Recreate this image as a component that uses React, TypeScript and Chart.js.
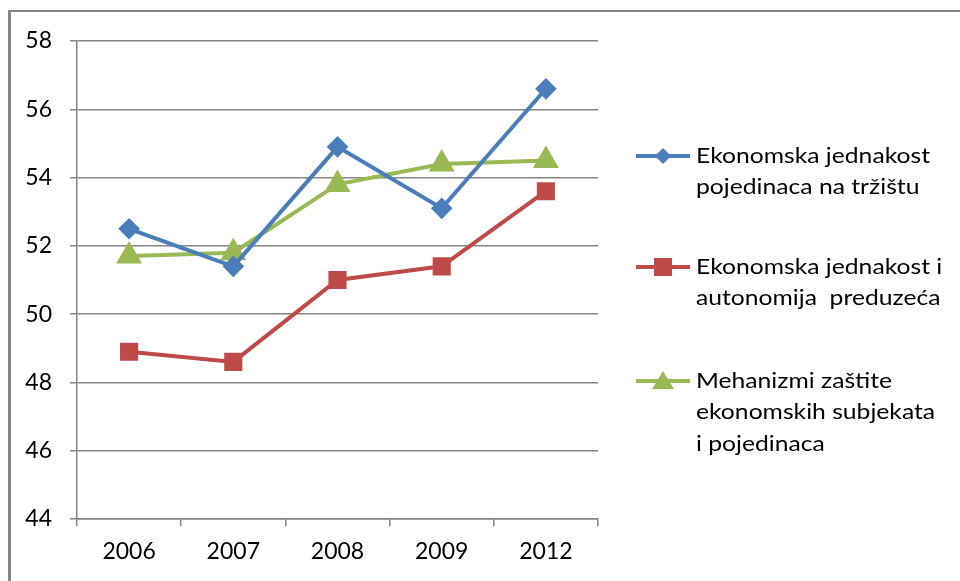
import React, { useEffect, useRef } from "react";
import { Chart, registerables } from "chart.js";

Chart.register(...registerables);

const categories = ["2006", "2007", "2008", "2009", "2012"];
const seriesNames = [
  ["Ekonomska jednakost", "pojedinaca na tržištu"],
  ["Ekonomska jednakost i", "autonomija  preduzeća"],
  ["Mehanizmi zaštite", "ekonomskih subjekata", "i pojedinaca"],
];
const blueValues = [52.5, 51.4, 54.9, 53.1, 56.6];
const redValues = [48.9, 48.6, 51.0, 51.4, 53.6];
const greenValues = [51.7, 51.8, 53.8, 54.4, 54.5];
const yMin = 44;
const yMax = 58;
const yStep = 2;

const FONT = "Lato, 'Liberation Sans', sans-serif";
const GRID = "#868686";

const legendPlugin = {
  id: "customLegend",
  afterDraw(chart: any) {
    const ctx = chart.ctx;
    const rows = [156, 267, 381];
    const lineH = 31.5;
    ctx.save();
    ctx.font = `21px ${FONT}`;
    const sx = 234 / ctx.measureText(seriesNames[0][0]).width;
    ctx.restore();
    chart.data.datasets.forEach((ds: any, i: number) => {
      const y = rows[i];
      ctx.save();
      ctx.strokeStyle = ds.borderColor;
      ctx.lineWidth = 4;
      ctx.beginPath();
      ctx.moveTo(636, y);
      ctx.lineTo(690, y);
      ctx.stroke();
      ctx.fillStyle = ds.backgroundColor;
      ctx.beginPath();
      const cx = 663;
      if (ds.pointStyle === "rectRot") {
        const r = 8;
        ctx.moveTo(cx, y - r);
        ctx.lineTo(cx + r, y);
        ctx.lineTo(cx, y + r);
        ctx.lineTo(cx - r, y);
        ctx.closePath();
      } else if (ds.pointStyle === "rect") {
        ctx.rect(cx - 9, y - 9, 18, 18);
      } else {
        ctx.moveTo(cx, y - 10);
        ctx.lineTo(cx + 11, y + 8);
        ctx.lineTo(cx - 11, y + 8);
        ctx.closePath();
      }
      ctx.fill();
      ctx.fillStyle = "#000";
      ctx.font = `21px ${FONT}`;
      ctx.textBaseline = "middle";
      ctx.textAlign = "left";
      ctx.translate(696, 0);
      ctx.scale(sx, 1);
      seriesNames[i].forEach((t, k) => {
        ctx.fillText(t, 0, y + k * lineH);
      });
      ctx.restore();
    });
  },
};

export default function App() {
  const ref = useRef<HTMLCanvasElement>(null);
  useEffect(() => {
    const mk = (label: string, data: number[], color: string, style: string, radius: number) => ({
      label,
      data,
      borderColor: color,
      backgroundColor: color,
      pointBackgroundColor: color,
      pointBorderColor: color,
      pointStyle: style,
      pointRadius: radius,
      pointHoverRadius: radius,
      borderWidth: 4,
      tension: 0,
    });
    const chart = new Chart(ref.current!, {
      type: "line",
      data: {
        labels: categories,
        datasets: [
          mk(seriesNames[0].join(" "), blueValues, "#4a7ebb", "rectRot", 8),
          mk(seriesNames[1].join(" "), redValues, "#be4b48", "rect", 10),
          mk(seriesNames[2].join(" "), greenValues, "#98b954", "triangle", 11),
        ],
      },
      options: {
        responsive: false,
        animation: false,
        layout: { padding: { top: 41, right: 362, left: 0, bottom: 0 } },
        plugins: { legend: { display: false }, tooltip: { enabled: false } },
        scales: {
          x: {
            offset: true,
            afterFit: (s: any) => {
              s.height = 62;
            },
            grid: {
              display: true,
              offset: true,
              drawOnChartArea: false,
              drawTicks: true,
              tickLength: 7,
              color: GRID,
              lineWidth: 1.5,
            },
            border: { display: true, color: GRID, width: 1.5 },
            ticks: {
              color: "#000",
              font: { family: FONT, size: 23 },
              padding: 12,
              maxRotation: 0,
            },
          },
          y: {
            min: yMin,
            max: yMax,
            afterFit: (s: any) => {
              s.width = 77;
            },
            grid: {
              color: GRID,
              lineWidth: 1.5,
              tickLength: 7,
              drawTicks: true,
            },
            border: { display: true, color: GRID, width: 1.5 },
            ticks: {
              stepSize: yStep,
              color: "#000",
              font: { family: FONT, size: 23 },
              padding: 18,
            },
          },
        },
      },
      plugins: [legendPlugin],
    });
    return () => chart.destroy();
  }, []);
  return (
    <div style={{ position: "fixed", left: 0, top: 0, width: 960, height: 581, background: "#fff" }}>
      <canvas ref={ref} width={960} height={581} style={{ position: "absolute", left: 0, top: 0 }} />
      <div
        style={{
          position: "absolute",
          left: 8,
          top: 10,
          width: 960,
          height: 600,
          borderLeft: "3px solid #868686",
          borderTop: "2px solid #868686",
          pointerEvents: "none",
        }}
      />
    </div>
  );
}
